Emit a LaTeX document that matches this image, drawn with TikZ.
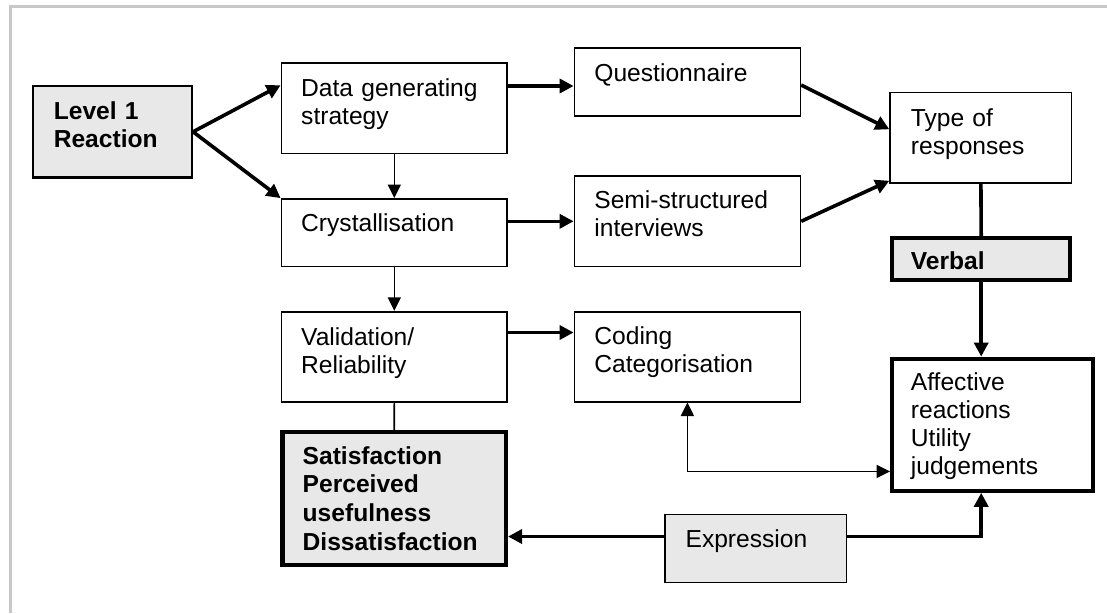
\documentclass[tikz,border=0pt]{standalone}
\usepackage{fontspec}
\setmainfont{Liberation Sans}
\usetikzlibrary{arrows.meta,calc}
\definecolor{boxgray}{RGB}{232,232,232}
\definecolor{framegray}{RGB}{200,200,200}
\tikzset{
  bx/.style={draw=black, line width=1.6pt, fill=white, inner sep=0pt},
  gbx/.style={bx, fill=boxgray},
  lvlbx/.style={bx, fill=boxgray, line width=2.4pt},
  tbx/.style={bx, line width=4.2pt},
  tgbx/.style={bx, fill=boxgray, line width=4.2pt},
  txt/.style={anchor=base west, inner sep=0pt, align=left, text width=260pt,
    font={\fontsize{24.6}{28.2}\selectfont}},
  btxt/.style={txt, font={\fontsize{24.6}{28.6}\selectfont\bfseries}},
  thn/.style={line width=1.6pt, -{Triangle[length=13.5pt,width=13pt]}},
  thk/.style={line width=3.6pt, -{Triangle[length=14pt,width=14pt]}},
  thnline/.style={line width=1.6pt},
  thkline/.style={line width=3.6pt},
}
\begin{document}
\begin{tikzpicture}[x=1pt,y=-1pt]
\useasboundingbox (0,0) rectangle (1107,613);
% frame
\draw[framegray, line width=3.5pt] (10.5,613) -- (10.5,6.7) -- (1107,6.7);

% boxes
\node[lvlbx, minimum width=158.9pt, minimum height=91.7pt] (lvl) at (112.4,131.8) {};
\node[bx, minimum width=225.7pt, minimum height=90.6pt] (dgs) at (394.3,108) {};
\node[bx, minimum width=225.7pt, minimum height=67.7pt] (cry) at (394.3,232.8) {};
\node[bx, minimum width=225.7pt, minimum height=90pt] (val) at (394.3,356.7) {};
\node[tgbx, minimum width=223.5pt, minimum height=132.7pt] (sat) at (394.2,498.3) {};
\node[bx, minimum width=226pt, minimum height=68pt] (que) at (687.4,81.7) {};
\node[bx, minimum width=226pt, minimum height=90.7pt] (sem) at (687.4,221.3) {};
\node[bx, minimum width=226pt, minimum height=90pt] (cod) at (687.4,356.7) {};
\node[gbx, minimum width=181.5pt, minimum height=68pt] (exp) at (755.6,548.3) {};
\node[bx, minimum width=181.5pt, minimum height=90.3pt] (tor) at (980.9,137.8) {};
\node[tgbx, minimum width=178.3pt, minimum height=42.3pt] (ver) at (981.2,259.2) {};
\node[tbx, minimum width=201.1pt, minimum height=132pt] (aff) at (992.7,424.7) {};

% texts
\node[btxt] (t-lvl) at (53.6,119) {Level 1\\Reaction};
\node[txt] (t-dgs) at (301,96.7) {Data generating\\strategy};
\node[txt] (t-cry) at (301,231.7) {Crystallisation};
\node[txt] (t-val) at (301,345) {Validation/\\Reliability};
\node[btxt] (t-sat) at (302.5,464.3) {Satisfaction\\Perceived\\usefulness\\Dissatisfaction};
\node[txt] (t-que) at (594.2,81) {Questionnaire};
\node[txt] (t-sem) at (594.2,208.3) {Semi-structured\\interviews};
\node[txt] (t-cod) at (594.2,344.3) {Coding\\Categorisation};
\node[txt] (t-tor) at (910.7,126.7) {Type of\\responses};
\node[btxt] (t-ver) at (910.7,269.3) {Verbal};
\node[txt] (t-aff) at (910.7,390) {Affective\\reactions\\Utility\\judgements};
\node[txt] (t-exp) at (685.4,547.3) {Expression};

% helper coordinates
\coordinate (dgsin) at ($(dgs.north west)+(0,23.3)$);
\coordinate (quein) at ($(que.west)+(0,4.3)$);
\coordinate (codin) at ($(cod.north west)+(0,21.6)$);
\coordinate (queout) at ($(que.east)+(0,3.3)$);
\coordinate (torin1) at ($(tor.west)+(0,-8.5)$);
\coordinate (torin2) at ($(tor.south west)+(0,-3)$);
\coordinate (affin) at ($(aff.south west)+(0,-21.4)$);
\coordinate (expl) at ($(exp.north west)+(0,23)$);
\coordinate (expr) at ($(exp.north east)+(0,23)$);
\coordinate (affbot) at (aff.south -| ver.south);

% connectors
\draw[thk] (lvl.east) -- (dgsin);
\draw[thk] (lvl.east) -- (cry.north west);
\draw[thn] (dgs.south) -- (cry.north);
\draw[thn] (cry.south) -- (val.north);
\draw[thnline] (val.south) -- (sat.north);
\draw[thk] (quein -| dgs.east) -- (quein);
\draw[thk] (sem.west -| cry.east) -- (sem.west);
\draw[thk] (codin -| val.east) -- (codin);
\draw[thk] (queout) -- (torin1);
\draw[thk] (sem.east) -- (torin2);
\draw[thkline] (tor.south) -- (ver.north);
\draw[thk] (ver.south) -- (ver.south |- aff.north);
\draw[line width=1.6pt, {Triangle[length=13.5pt,width=13pt]}-{Triangle[length=13.5pt,width=13pt]}]
  (cod.south) |- (affin);
\draw[thk] (expl) -- (expl -| sat.east);
\draw[thk] (expr) -| (affbot);
\end{tikzpicture}
\end{document}
